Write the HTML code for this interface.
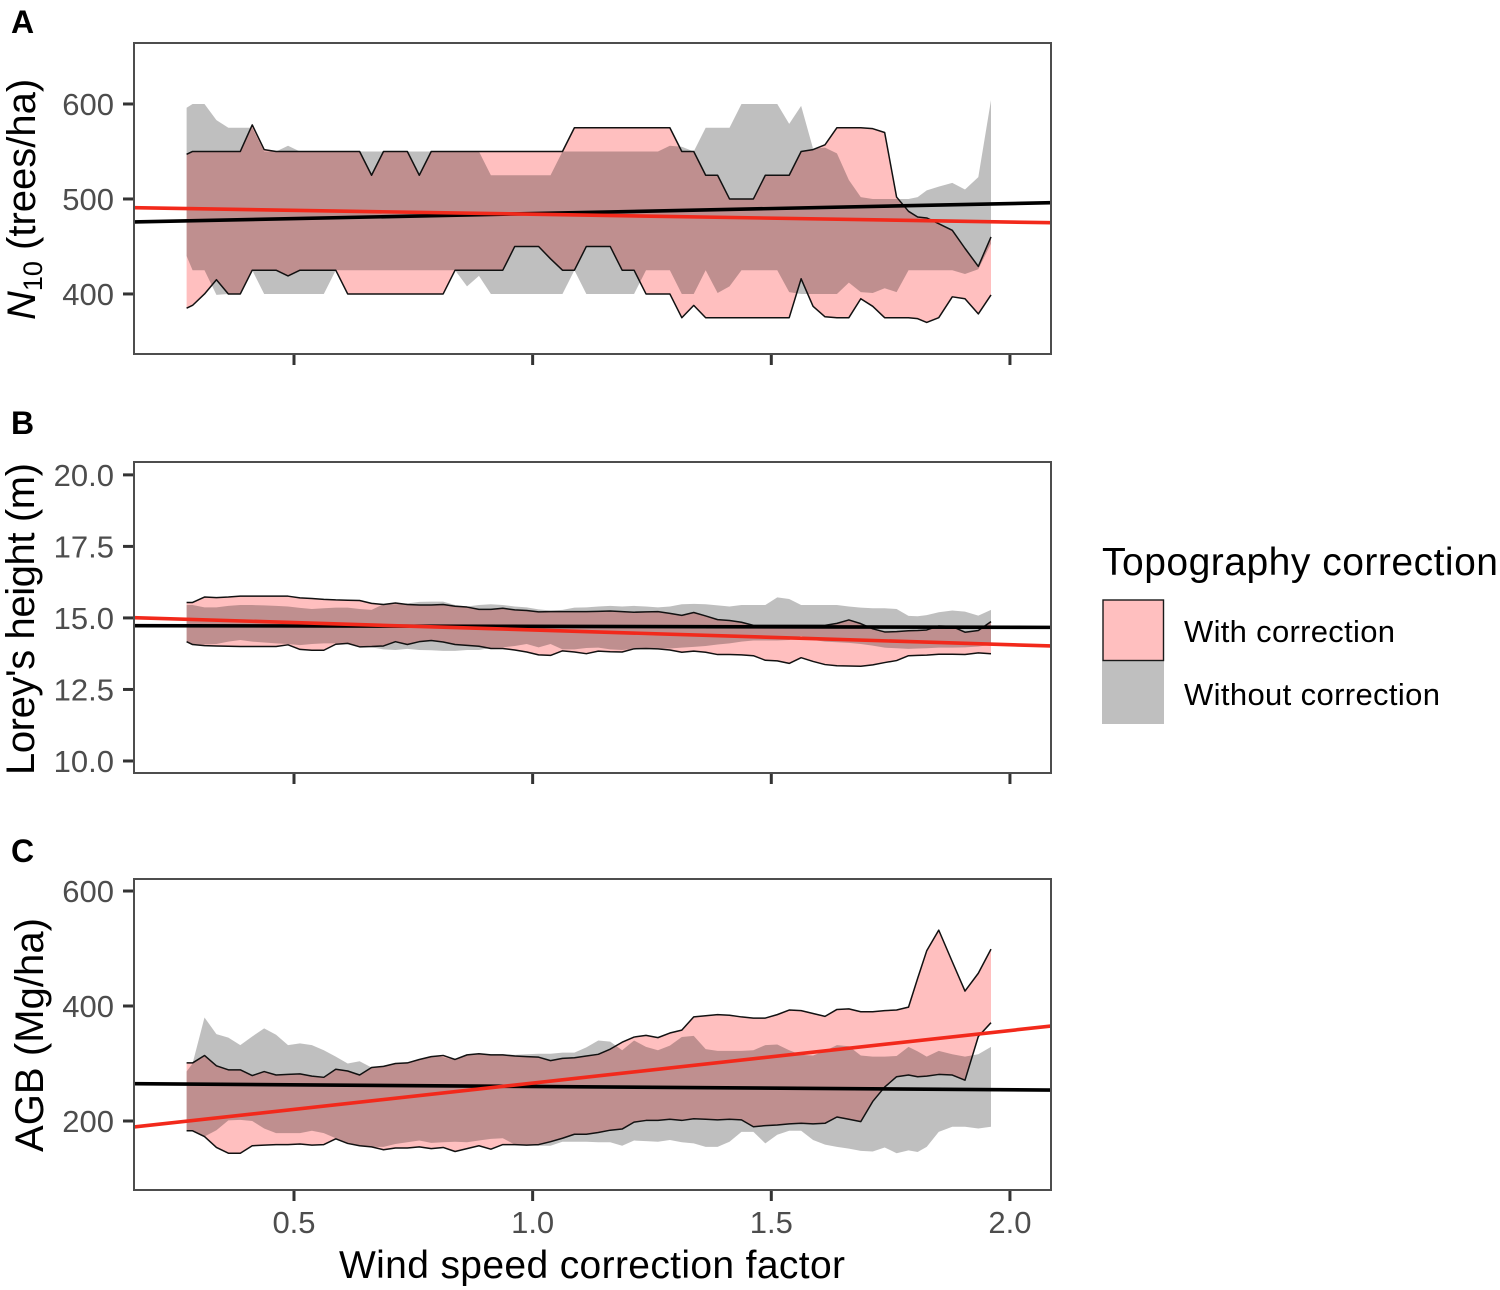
<!DOCTYPE html>
<html lang="en">
<head>
<meta charset="utf-8">
<title>Forest structure against wind speed correction factor</title>
<style>
html,body{margin:0;padding:0;background:#fff;width:1500px;height:1290px;overflow:hidden}
svg{display:block}
text{font-family:"Liberation Sans",Arial,sans-serif}
.tick-label{font-size:31px;fill:#4d4d4d}
.axis-title{font-size:39px;fill:#000}
.y-title{font-size:40px;fill:#000}
.panel-tag{font-size:32px;font-weight:bold;fill:#000}
.legend-label{font-size:31px;fill:#000}
</style>
</head>
<body>
<svg id="chart" xmlns="http://www.w3.org/2000/svg" width="1500" height="1290" viewBox="0 0 1500 1290">
  <rect x="0" y="0" width="1500" height="1290" fill="#ffffff"/>
  <defs>
    <clipPath id="clip-a"><rect x="134" y="43" width="917" height="311"/></clipPath>
    <clipPath id="clip-b"><rect x="134" y="462" width="917" height="311"/></clipPath>
    <clipPath id="clip-c"><rect x="134" y="879" width="917" height="311"/></clipPath>
  </defs>

  <text class="panel-tag" x="11" y="33">A</text>
  <text class="panel-tag" x="11" y="434">B</text>
  <text class="panel-tag" x="11" y="862">C</text>

  <text class="y-title" transform="translate(35,320) rotate(-90)"><tspan font-style="italic">N</tspan><tspan font-size="27" dy="7">10</tspan><tspan dy="-7"> (trees/ha)</tspan></text>
  <text class="y-title" transform="translate(34,775) rotate(-90)" textLength="312">Lorey's height (m)</text>
  <text class="y-title" transform="translate(43,1152) rotate(-90)" textLength="234">AGB (Mg/ha)</text>
  <text class="axis-title" x="339" y="1278" textLength="506">Wind speed correction factor</text>

  <g>
    <text class="axis-title" x="1102" y="575" textLength="396">Topography correction</text>
    <rect x="1102" y="661" width="62" height="63" fill="#bfbfbf"/>
    <rect x="1103" y="600" width="60.5" height="60.5" fill="#ffbfbf" stroke="#1a1a1a" stroke-width="1.4"/>
    <text class="legend-label" x="1184" y="642" textLength="211">With correction</text>
    <text class="legend-label" x="1184" y="705" textLength="256">Without correction</text>
  </g>
</svg>

<script>
const windFactor = [
  0.275,0.2875,0.3125,0.3375,0.3625,0.3875,0.4125,0.4375,0.4625,0.4875,
  0.5125,0.5375,0.5625,0.5875,0.6125,0.6375,0.6625,0.6875,0.7125,0.7375,
  0.7625,0.7875,0.8125,0.8375,0.8625,0.8875,0.9125,0.9375,0.9625,0.9875,
  1.0125,1.0375,1.0625,1.0875,1.1125,1.1375,1.1625,1.1875,1.2125,1.2375,
  1.2625,1.2875,1.3125,1.3375,1.3625,1.3875,1.4125,1.4375,1.4625,1.4875,
  1.5125,1.5375,1.5625,1.5875,1.6125,1.6375,1.6625,1.6875,1.7125,1.7375,
  1.7625,1.7875,1.8066,1.8256,1.8508,1.8792,1.9058,1.9337,1.9603
];
const xTickValues = [0.5,1.0,1.5,2.0];
const xTickLabels = ["0.5","1.0","1.5","2.0"];
const trendX = [0.1648,2.086];

const n10WithUpper = [
  547,550,550,550,550,550,578,552,550,550,
  550,550,550,550,550,550,525,550,550,550,
  525,550,550,550,550,550,550,550,550,550,
  550,550,550,575,575,575,575,575,575,575,
  575,575,550,550,525,525,500,500,500,525,
  525,525,550,552,557,575,575,575,574,570,
  502,487,481,480,474,467,448,429,460
];
const n10WithLower = [
  385,388,400,415,400,400,425,425,425,419,
  425,425,425,425,400,400,400,400,400,400,
  400,400,400,425,425,425,425,425,450,450,
  450,437,425,425,450,450,450,425,425,400,
  400,400,375,388,375,375,375,375,375,375,
  375,375,416,387,376,375,375,395,387,375,
  375,375,374,370,375,397,395,379,399
];
const n10WithoutUpper = [
  596,600,600,583,575,575,575,550,550,556,
  550,550,550,550,550,550,550,550,550,550,
  550,550,550,550,550,550,525,525,525,525,
  525,525,550,550,550,550,550,550,550,550,
  550,556,555,550,575,575,575,600,600,600,
  600,579,598,553,554,548,520,502,500,500,
  500,500,502,509,513,517,510,523,604
];
const n10WithoutLower = [
  440,425,425,399,400,400,425,400,400,400,
  400,400,400,425,425,425,425,425,425,425,
  425,425,425,425,408,419,400,400,400,400,
  400,400,400,425,400,400,400,400,400,425,
  425,425,400,400,425,401,408,425,425,425,
  425,402,400,400,400,400,412,402,401,406,
  402,425,425,425,425,425,421,426,453
];
const n10TrendWith = [490.8,475];
const n10TrendWithout = [475.8,496.1];
const n10TickValues = [400,500,600];
const n10TickLabels = ["400","500","600"];

const heightWithUpper = [
  15.54,15.54,15.73,15.71,15.73,15.76,15.76,15.76,15.76,15.76,
  15.7,15.68,15.65,15.63,15.62,15.61,15.51,15.47,15.52,15.47,
  15.45,15.45,15.47,15.41,15.38,15.3,15.3,15.34,15.28,15.26,
  15.21,15.22,15.22,15.22,15.22,15.23,15.24,15.22,15.2,15.21,
  15.22,15.16,15.09,15.19,15.07,14.94,14.91,14.85,14.74,14.74,
  14.74,14.74,14.74,14.74,14.74,14.81,14.93,14.8,14.62,14.51,
  14.52,14.55,14.56,14.58,14.72,14.7,14.5,14.56,14.87
];
const heightWithLower = [
  14.17,14.07,14.03,14.02,14.01,14.0,14.0,14.0,14.0,14.06,
  13.9,13.87,13.87,14.08,14.11,13.99,14.0,14.02,14.17,14.07,
  14.17,14.21,14.16,14.07,14.04,14.01,13.93,13.93,13.88,13.81,
  13.71,13.69,13.85,13.81,13.75,13.84,13.82,13.81,13.92,13.93,
  13.92,13.88,13.8,13.84,13.8,13.72,13.72,13.71,13.68,13.52,
  13.5,13.41,13.61,13.48,13.37,13.33,13.32,13.31,13.36,13.44,
  13.51,13.68,13.69,13.7,13.73,13.73,13.72,13.78,13.75
];
const heightWithoutUpper = [
  15.45,15.45,15.37,15.37,15.42,15.45,15.45,15.44,15.42,15.4,
  15.35,15.31,15.34,15.36,15.36,15.31,15.28,15.48,15.48,15.51,
  15.56,15.57,15.57,15.45,15.4,15.45,15.48,15.45,15.4,15.37,
  15.3,15.26,15.28,15.36,15.37,15.4,15.42,15.4,15.42,15.4,
  15.37,15.4,15.48,15.49,15.48,15.44,15.4,15.45,15.45,15.45,
  15.72,15.66,15.45,15.45,15.45,15.45,15.4,15.36,15.34,15.34,
  15.31,15.07,15.06,15.1,15.2,15.26,15.22,15.08,15.28
];
const heightWithoutLower = [
  14.14,14.09,14.07,14.09,14.17,14.23,14.17,14.14,14.11,14.09,
  14.05,14.09,14.11,14.11,14.11,14.02,13.97,13.9,13.88,13.92,
  13.88,13.87,13.85,13.85,13.88,13.88,13.95,13.97,14.02,14.09,
  13.97,14.09,13.9,13.9,13.95,13.96,13.9,13.88,13.92,13.94,
  13.94,13.93,13.96,13.99,14.02,14.07,14.11,14.17,14.21,14.21,
  14.21,14.23,14.37,14.23,14.17,14.15,14.13,14.09,14.03,13.96,
  13.94,13.92,13.93,13.94,13.96,13.96,13.97,14.0,14.06
];
const heightTrendWith = [15.01,14.02];
const heightTrendWithout = [14.73,14.67];
const heightTickValues = [10,12.5,15,17.5,20];
const heightTickLabels = ["10.0","12.5","15.0","17.5","20.0"];

const agbWithUpper = [
  301,301,314,296,289,289,279,286,280,281,
  282,278,276,290,287,280,293,295,300,301,
  307,312,314,307,315,317,315,315,313,312,
  311,305,309,310,313,316,325,337,346,349,
  345,353,358,381,383,385,384,381,379,379,
  385,393,392,387,382,394,395,390,390,392,
  393,398,448,496,532,477,426,457,499
];
const agbWithLower = [
  183,183,173,154,144,144,157,158,159,159,
  160,158,159,169,161,157,155,150,153,153,
  155,152,154,147,152,157,151,159,159,158,
  159,164,170,177,177,180,184,186,198,201,
  201,203,201,204,203,202,203,202,190,192,
  193,195,196,195,196,207,203,199,234,259,
  277,280,277,278,281,280,271,347,371
];
const agbWithoutUpper = [
  286,300,380,351,345,332,347,361,350,332,
  335,332,323,312,300,304,293,296,300,300,
  307,313,311,306,315,317,316,316,315,316,
  317,317,319,319,328,340,338,323,340,329,
  323,331,346,348,325,322,322,322,323,332,
  333,323,315,314,322,332,330,314,312,312,
  313,329,321,312,322,316,312,316,329
];
const agbWithoutLower = [
  183,183,173,184,201,202,200,187,179,179,
  179,183,179,170,161,157,155,155,160,163,
  166,162,163,164,163,166,169,170,159,158,
  157,157,164,164,164,163,163,157,166,165,
  164,167,163,161,155,155,164,181,181,161,
  176,183,183,167,159,155,152,148,147,154,
  144,149,146,155,181,190,190,187,190
];
const agbTrendWith = [189.6,365.2];
const agbTrendWithout = [264.9,253.9];
const agbTickValues = [200,400,600];
const agbTickLabels = ["200","400","600"];

const SVG_NS = "http://www.w3.org/2000/svg";
const chart = document.getElementById("chart");
const plotLeft = 134, plotRight = 1051;
const xDomain = [0.1648,2.086];

function xScale(v){
  return plotLeft + (v - xDomain[0]) / (xDomain[1] - xDomain[0]) * (plotRight - plotLeft);
}
function makeYScale(domain, top, bottom){
  return function(v){
    return bottom - (v - domain[0]) / (domain[1] - domain[0]) * (bottom - top);
  };
}
function make(tag, attrs, parent){
  const el = document.createElementNS(SVG_NS, tag);
  Object.keys(attrs).forEach(function(k){ el.setAttribute(k, attrs[k]); });
  parent.appendChild(el);
  return el;
}
function linePoints(values, yScale){
  return values.map(function(v, i){
    return xScale(windFactor[i]).toFixed(2) + "," + yScale(v).toFixed(2);
  }).join(" ");
}
function ribbonPoints(upper, lower, yScale){
  const top = linePoints(upper, yScale);
  const bottom = lower.map(function(v, i){
    return xScale(windFactor[i]).toFixed(2) + "," + yScale(v).toFixed(2);
  }).reverse().join(" ");
  return top + " " + bottom;
}

function drawPanel(p){
  const y = makeYScale(p.domain, p.top, p.bottom);
  const group = make("g", {}, chart);
  
  

  const bg = make("rect", {x:plotLeft, y:p.top, width:plotRight-plotLeft, height:p.bottom-p.top, fill:"#ffffff"}, group);
  
  

  const clipped = make("g", {"clip-path":"url(#" + p.clip + ")"}, group);
  
  

  const pink = make("polygon", {points:ribbonPoints(p.withUpper, p.withLower, y), fill:"#ff0000", "fill-opacity":"0.25"}, clipped);
  
  

  const grey = make("polygon", {points:ribbonPoints(p.withoutUpper, p.withoutLower, y), fill:"#000000", "fill-opacity":"0.25"}, clipped);
  
  

  const upperEdge = make("polyline", {points:linePoints(p.withUpper, y), fill:"none", stroke:"#111111", "stroke-width":"1.5", "stroke-linejoin":"round"}, clipped);
  
  

  const lowerEdge = make("polyline", {points:linePoints(p.withLower, y), fill:"none", stroke:"#111111", "stroke-width":"1.5", "stroke-linejoin":"round"}, clipped);
  
  

  const blackTrend = make("line", {x1:xScale(trendX[0]), y1:y(p.trendWithout[0]), x2:xScale(trendX[1]), y2:y(p.trendWithout[1]), stroke:"#000000", "stroke-width":"3.6"}, clipped);
  
  

  const redTrend = make("line", {x1:xScale(trendX[0]), y1:y(p.trendWith[0]), x2:xScale(trendX[1]), y2:y(p.trendWith[1]), stroke:"#f2291b", "stroke-width":"3.6"}, clipped);
  
  

  const border = make("rect", {x:plotLeft, y:p.top, width:plotRight-plotLeft, height:p.bottom-p.top, fill:"none", stroke:"#4d4d4d", "stroke-width":"2"}, group);
  
  

  p.tickValues.forEach(function(v, i){
    const t = make("line", {x1:123, x2:133, y1:y(v), y2:y(v), stroke:"#333333", "stroke-width":"3"}, group);
    
    
    const l = make("text", {x:114, y:y(v)+11, "text-anchor":"end", "class":"tick-label"}, group);
    
    
    l.textContent = p.tickLabels[i];
  });

  xTickValues.forEach(function(v, i){
    const t = make("line", {x1:xScale(v), x2:xScale(v), y1:p.bottom+1, y2:p.bottom+11, stroke:"#333333", "stroke-width":"3"}, group);
    
    
    if (p.showXLabels) {
      const l = make("text", {x:xScale(v), y:1233, "text-anchor":"middle", "class":"tick-label"}, group);
      
      
      l.textContent = xTickLabels[i];
    }
  });
}

drawPanel({
  name:"panel-a-n10", clip:"clip-a", top:43, bottom:354, domain:[336.8,664.2],
  withUpper:n10WithUpper, withLower:n10WithLower, withoutUpper:n10WithoutUpper, withoutLower:n10WithoutLower,
  trendWith:n10TrendWith, trendWithout:n10TrendWithout,
  tickValues:n10TickValues, tickLabels:n10TickLabels, showXLabels:false
});
drawPanel({
  name:"panel-b-loreys-height", clip:"clip-b", top:462, bottom:773, domain:[9.58,20.45],
  withUpper:heightWithUpper, withLower:heightWithLower, withoutUpper:heightWithoutUpper, withoutLower:heightWithoutLower,
  trendWith:heightTrendWith, trendWithout:heightTrendWithout,
  tickValues:heightTickValues, tickLabels:heightTickLabels, showXLabels:false
});
drawPanel({
  name:"panel-c-agb", clip:"clip-c", top:879, bottom:1190, domain:[80,620.9],
  withUpper:agbWithUpper, withLower:agbWithLower, withoutUpper:agbWithoutUpper, withoutLower:agbWithoutLower,
  trendWith:agbTrendWith, trendWithout:agbTrendWithout,
  tickValues:agbTickValues, tickLabels:agbTickLabels, showXLabels:true
});
</script>
</body>
</html>
